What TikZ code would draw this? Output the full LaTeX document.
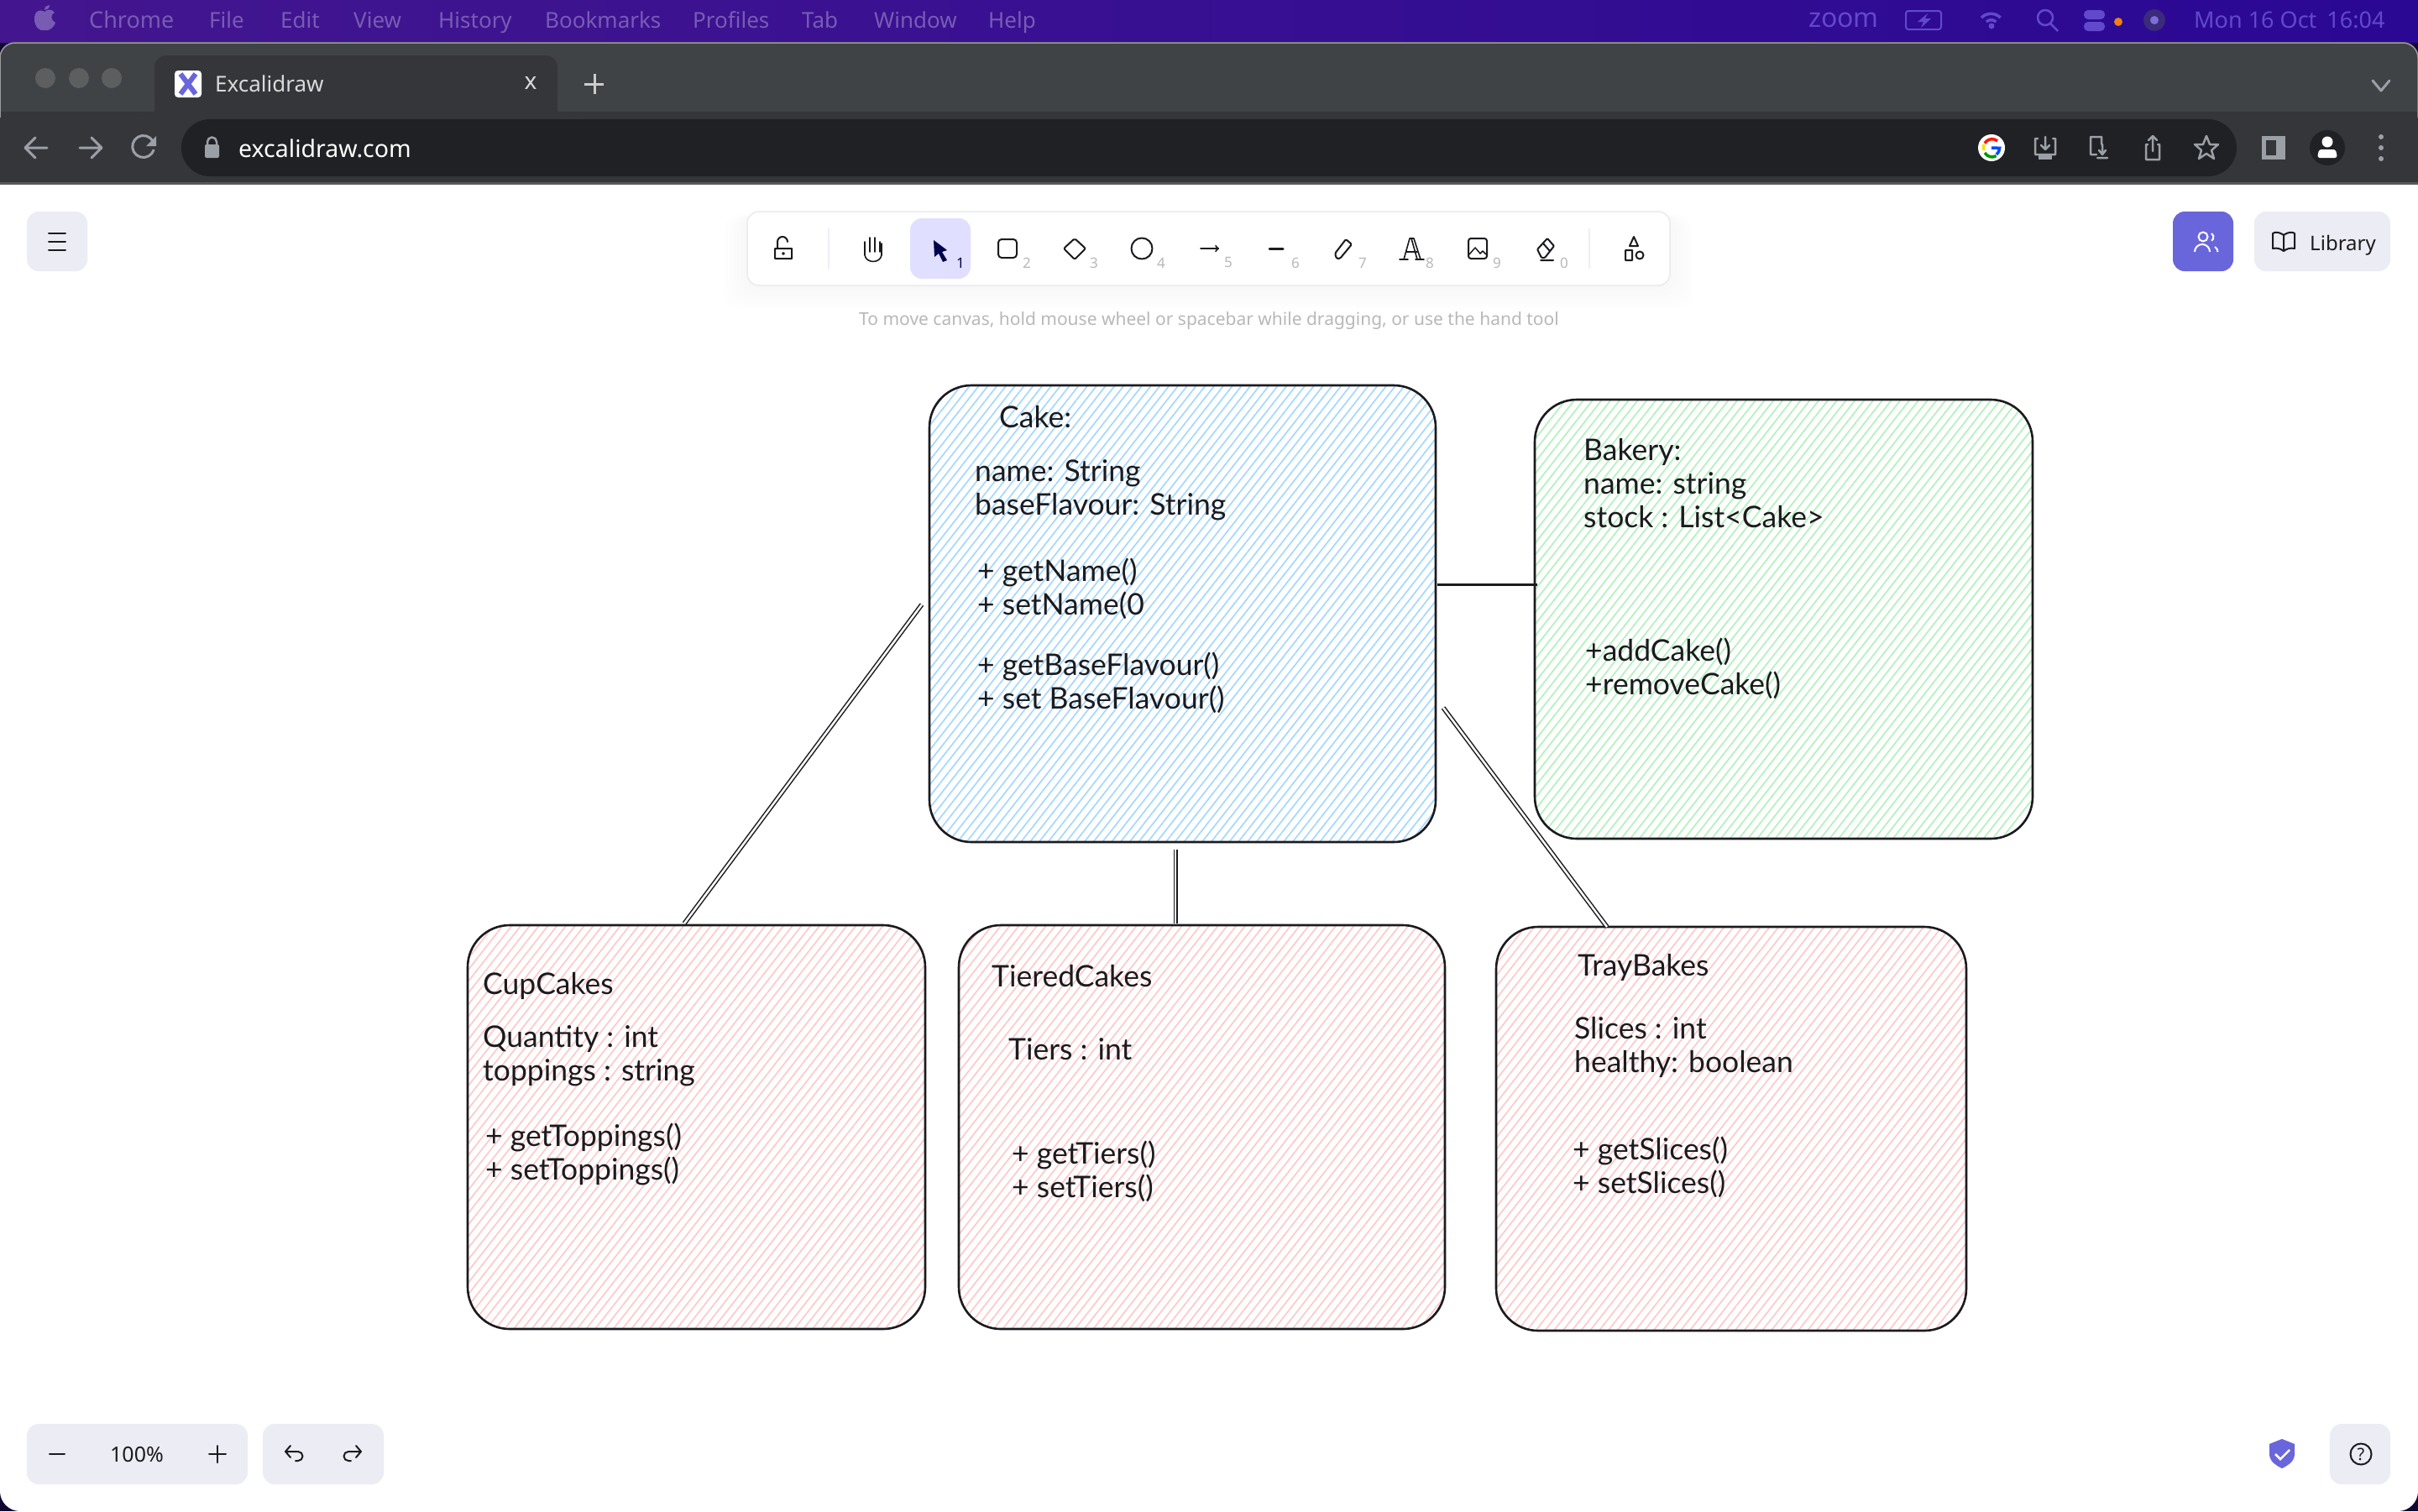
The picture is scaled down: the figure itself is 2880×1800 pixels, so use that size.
\documentclass[tikz,border=0pt]{standalone}
\usepackage{fontspec}
\setmainfont{Noto Sans}
\newfontfamily\handfont{Lato}
\usetikzlibrary{calc}
\usetikzlibrary{patterns.meta}
\definecolor{menuleft}{RGB}{67, 22, 143}
\definecolor{menuright}{RGB}{42, 8, 148}
\definecolor{menutext}{RGB}{120, 92, 180}
\definecolor{menutextr}{RGB}{98, 72, 205}
\definecolor{deskdark}{RGB}{18, 8, 50}
\definecolor{tabstrip}{RGB}{64, 67, 70}
\definecolor{chromebar}{RGB}{53, 54, 58}
\definecolor{urlbar}{RGB}{32, 33, 36}
\definecolor{chromeicon}{RGB}{154, 160, 166}
\definecolor{trafficgray}{RGB}{92, 94, 96}
\definecolor{panelgray}{RGB}{236, 236, 244}
\definecolor{excaviolet}{RGB}{105, 101, 219}
\definecolor{selectviolet}{RGB}{224, 223, 255}
\definecolor{hintgray}{RGB}{184, 184, 184}
\definecolor{inkblack}{RGB}{27, 27, 31}
\definecolor{hatchblue}{RGB}{165, 216, 255}
\definecolor{hatchgreen}{RGB}{178, 242, 187}
\definecolor{hatchpink}{RGB}{255, 201, 201}
\tikzset{
  hatchbox/.style={draw=inkblack, line width=2.6pt, rounded corners=50pt, inner sep=0pt,
    pattern={Lines[angle=52, distance=8.5pt, line width=1.7pt]}},
  sketchtext/.style={anchor=west, align=left, inner sep=0pt, font=\handfont\fontsize{35.5}{40}\selectfont, text=inkblack},
  sketchline/.style={draw=inkblack, line width=1.5pt, double=white, double distance=2.5pt},
  sketchsolid/.style={draw=inkblack, line width=3pt},
  menuitem/.style={anchor=base west, inner sep=0pt, font=\fontsize{26}{30}\selectfont},
  uibutton/.style={fill=panelgray, rounded corners=14pt},
  toolicon/.style={draw=inkblack, line width=2pt, line join=round, line cap=round},
  chromeline/.style={draw=chromeicon, line width=3pt, line cap=round, line join=round},
  toolkey/.style={inner sep=0pt, font=\fontsize{17}{20}\selectfont, text=hintgray},
}
\begin{document}
\begin{tikzpicture}[x=1pt, y=-1pt]
\useasboundingbox (0,0) rectangle (2880,1800);
\fill[deskdark] (0,0) rectangle (2880,1800);
\fill[white, rounded corners=24pt] (0,180) rectangle (2880,1800);
% menu bar
\shade[left color=menuleft, right color=menuright] (0,0) rectangle (2880,50);
\fill[menutext] (53,14) .. controls (46,10) and (41,14) .. (41,23) .. controls (41,31) and (47,38) .. (53,36)
  .. controls (59,38) and (65,31) .. (66,27) .. controls (60,24) and (60,17) .. (65,15) .. controls (61,10) and (57,11) .. (53,14) -- cycle;
\fill[menutext] (53,12) .. controls (53,8) and (56,6) .. (59,6) .. controls (59,10) and (56,12) .. (53,12) -- cycle;
\node[menuitem, text=menutext, font=\fontsize{27}{30}\selectfont\bfseries] (menuchrome) at (106,33) {Chrome};
\foreach \mx/\mt in {249/File, 334/Edit, 421/View, 522/History, 649/Bookmarks, 825/Profiles, 955/Tab, 1041/Window, 1177/Help}
  \node[menuitem, text=menutext] at (\mx,33) {\mt};
\node[anchor=center, inner sep=0pt, text=menutextr, font=\fontsize{32}{34}\selectfont\bfseries] (menuzoom) at (2196,24) {zoom};
\draw[menutextr, line width=2pt, rounded corners=3pt] (2270,13) rectangle (2312,35);
\fill[menutextr] (2296,16) -- (2284,26) -- (2291,26) -- (2288,33) -- (2300,22) -- (2293,22) -- cycle;
\draw[menutextr, line width=3.5pt] (2360,21) arc[start angle=135, end angle=45, radius=16pt];
\draw[menutextr, line width=3.5pt] (2366,26) arc[start angle=135, end angle=45, radius=8pt];
\fill[menutextr] (2372,31) circle (3.5pt);
\draw[menutextr, line width=2.5pt] (2436,21) circle (9pt) (2442,28) -- (2451,37);
\fill[menutextr, rounded corners=5pt] (2482,12) rectangle (2507,23) (2482,26) rectangle (2507,37);
\fill[orange!70!brown] (2523,26) circle (5pt);
\fill[menutextr!60!black] (2566,24) circle (13pt);
\fill[menutextr!80!white] (2566,24) circle (5pt);
\node[menuitem, text=menutextr, font=\fontsize{27}{30}\selectfont] (menuclock) at (2613,33) {Mon 16 Oct\hspace{12pt}16:04};
% browser window
\fill[tabstrip, rounded corners=18pt] (0,50) rectangle (2880,150);
\fill[chromebar] (0,133) rectangle (2880,217);
\fill[gray!70!black] (0,217) rectangle (2880,220);
\draw[gray!80, line width=1.5pt, rounded corners=18pt] (0,140) -- (0,51) -- (2880,51) -- (2880,140);
\foreach \dx in {54,94,133}
  \fill[trafficgray] (\dx,93) circle (12pt);
\fill[chromebar, rounded corners=14pt] (184,66) rectangle (664,150);
\fill[chromebar] (170,120) rectangle (678,133);
\fill[tabstrip, rounded corners=10pt] (150,100) rectangle (184,140);
\fill[tabstrip, rounded corners=10pt] (664,100) rectangle (700,140);
\fill[chromebar] (150,133) rectangle (700,140);
\fill[white, rounded corners=4pt] (208,84) rectangle (240,116);
\draw[excaviolet, line width=6pt] (215,88) -- (233,112) (233,88) -- (215,112);
\node[menuitem, text=white!85!black] (tabtitle) at (256,109) {Excalidraw};
\node[inner sep=0pt, text=white!85!black, font=\fontsize{28}{30}\selectfont] (tabclose) at (632,99) {x};
\draw[white!80!black, line width=3pt] (696,100) -- (719,100) (708,88) -- (708,112);
\draw[chromeline] (2826,96) -- (2836,108) -- (2846,96);
\draw[chromeline] (30,176) -- (56,176) (42,164) -- (30,176) -- (42,188);
\draw[chromeline] (95,176) -- (121,176) (109,164) -- (121,176) -- (109,188);
\draw[chromeline] (182,168) arc[start angle=30, end angle=340, radius=13pt];
\fill[chromeicon] (186,162) -- (186,174) -- (174,174) -- cycle;
\fill[urlbar, rounded corners=34pt] (216,142) rectangle (2664,210);
\fill[chromeicon, rounded corners=2pt] (244,172) rectangle (261,188);
\draw[chromeicon, line width=2.5pt] (247,172) -- (247,169) arc[start angle=180, end angle=0, radius=5.5pt] -- (258,172);
\node[menuitem, text=white, font=\fontsize{28.5}{32}\selectfont] (urltext) at (284,187) {excalidraw.com};
% browser icons
\fill[white] (2372,176) circle (16pt);
\draw[red!80!orange, line width=3.5pt] (2379,168) arc[start angle=50, end angle=150, radius=10pt];
\draw[yellow!80!orange, line width=3.5pt] (2363,172) arc[start angle=160, end angle=200, radius=10pt];
\draw[green!60!black, line width=3.5pt] (2364,182) arc[start angle=210, end angle=300, radius=10pt];
\draw[blue!70!cyan, line width=3.5pt] (2378,184) arc[start angle=310, end angle=360, radius=10pt] -- (2372,176);
\draw[chromeline, line width=2.5pt] (2427,165) -- (2424,165) -- (2424,184) -- (2448,184) -- (2448,165) -- (2445,165) (2436,163) -- (2436,178) (2431,173) -- (2436,178) -- (2441,173);
\fill[chromeicon] (2428,184) rectangle (2444,190);
\draw[chromeline, line width=2.5pt] (2503,163) -- (2490,163) -- (2490,184) -- (2497,184) (2503,163) -- (2503,172) (2504,172) -- (2504,184) (2500,179) -- (2504,184) -- (2508,179) (2498,188) -- (2510,188);
\draw[chromeline, line width=2.5pt] (2558,172) -- (2556,172) -- (2556,190) -- (2572,190) -- (2572,172) -- (2570,172) (2564,162) -- (2564,180) (2559,167) -- (2564,162) -- (2569,167);
\draw[chromeline, line width=2.5pt] (2628,162) -- (2632,172) -- (2642,172) -- (2634,179) -- (2637,189) -- (2628,183) -- (2619,189) -- (2622,179) -- (2614,172) -- (2624,172) -- cycle;
\fill[chromeicon] (2694,162) rectangle (2722,190);
\fill[chromebar] (2699,167) rectangle (2711,185);
\fill[urlbar] (2772,176) circle (21pt);
\fill[white] (2772,169) circle (6.5pt);
\fill[white, rounded corners=3pt] (2760,188) -- (2762,178) -- (2782,178) -- (2784,188) -- cycle;
\foreach \dy in {163,176,189}
  \fill[chromeicon] (2836,\dy) circle (3pt);
% excalidraw controls
\fill[uibutton] (32,252) rectangle (104,323);
\draw[toolicon] (58,278) -- (78,278) (58,288) -- (78,288) (58,298) -- (78,298);
\foreach \sp in {4,8,...,28}
  \fill[black, opacity=0.004, rounded corners=20pt] ({890-\sp},256) rectangle ({1989+\sp},{340+\sp});
\fill[white, rounded corners=14pt] (890,252) rectangle (1989,340);
\draw[black!8, line width=1.5pt, rounded corners=14pt] (890,252) rectangle (1989,340);
\draw[excaviolet!12, line width=1.5pt] (987,272) -- (987,320) (1893,272) -- (1893,320);
\fill[selectviolet, rounded corners=14pt] (1084,260) rectangle (1156,332);
% tool icons
\draw[toolicon] (923,296) rectangle (943,308) (926,296) -- (926,288) arc[start angle=180, end angle=0, radius=6pt] (933,302) circle (1pt);
\draw[toolicon, line width=1.6pt] (1030,300) -- (1030,288) (1036,300) -- (1036,283) (1042,300) -- (1042,283) (1048,300) -- (1048,288)
  (1030,298) -- (1030,304) .. controls (1032,314) and (1048,314) .. (1050,304) -- (1050,290);
\fill[black!70!blue] (1112,286) -- (1128,298) -- (1122,300) -- (1128,310) -- (1123,312) -- (1118,302) -- (1113,306) -- cycle;
\node[inner sep=0pt, text=black!70!blue, font=\fontsize{17}{20}\selectfont] (toolone) at (1144,313) {1};
\draw[toolicon, rounded corners=4pt] (1189,285) rectangle (1211,307);
\draw[toolicon, rounded corners=2pt] (1280,284) -- (1293,296) -- (1280,309) -- (1267,296) -- cycle;
\draw[toolicon] (1360,296) circle (12.5pt);
\draw[toolicon, line width=2pt, -to] (1430,296) -- (1452,296);
\draw[toolicon, line width=3pt] (1512,296) -- (1528,296);
\draw[toolicon, rounded corners=1.5pt] (1592,308) -- (1590,302) -- (1603,285) -- (1610,291) -- (1596,308) -- cycle;
\draw[toolicon, line width=1.6pt] (1667,309) -- (1677,309) (1686,309) -- (1696,309) (1672,309) -- (1679,284) -- (1684,284) -- (1692,309) (1675,300) -- (1688,300) (1681,284) -- (1688,309);
\draw[toolicon, rounded corners=3pt] (1749,284) rectangle (1771,308);
\draw[toolicon, line width=1.5pt] (1750,303) -- (1757,295) -- (1763,302) -- (1766,299) -- (1770,303);
\draw[toolicon, rounded corners=1pt] (1831,297) -- (1843,284) -- (1851,293) -- (1840,307) -- (1836,307) -- cycle (1838,290) -- (1846,299) (1835,310) -- (1850,310);
\draw[toolicon, line width=2pt] (1946,282) -- (1951,293) -- (1941,293) -- cycle (1936,298) rectangle (1944,310);
\draw[toolicon, line width=2pt] (1953,304) circle (4.5pt);
\foreach \kx/\kt in {1223/2, 1303/3, 1383/4, 1463/5, 1543/6, 1623/7, 1703/8, 1783/9, 1863/0}
  \node[toolkey] at (\kx,313) {\kt};
\node[inner sep=0pt, text=hintgray, font=\fontsize{21}{24}\selectfont] (hinttext) at (1440,382) {To move canvas, hold mouse wheel or spacebar while dragging, or use the hand tool};
\fill[excaviolet, rounded corners=14pt] (2588,252) rectangle (2660,323);
\draw[white, line width=2pt] (2624,282) circle (5.5pt) (2614,300) arc[start angle=180, end angle=0, radius=9pt];
\draw[white, line width=2pt] (2634,278) arc[start angle=60, end angle=-60, radius=5pt] (2638,294) arc[start angle=60, end angle=0, radius=7pt];
\fill[uibutton] (2685,252) rectangle (2847,323);
\draw[toolicon, line width=2pt] (2720,280) .. controls (2714,276) and (2710,276) .. (2707,278) -- (2707,296) .. controls (2712,295) and (2716,296) .. (2720,299)
  .. controls (2724,296) and (2728,295) .. (2733,296) -- (2733,278) .. controls (2730,276) and (2726,276) .. (2720,280) -- (2720,299);
\node[menuitem, text=inkblack, font=\fontsize{24}{26}\selectfont] (librarytext) at (2751,298) {Library};
\fill[uibutton] (32,1696) rectangle (295,1768);
\fill[uibutton] (313,1696) rectangle (457,1768);
\draw[toolicon, line width=2pt] (59,1732) -- (77,1732) (249,1732) -- (269,1732) (259,1722) -- (259,1742);
\node[inner sep=0pt, text=inkblack, font=\fontsize{25}{28}\selectfont] (zoomvalue) at (163,1733) {100\%};
\draw[toolicon, line width=2pt] (341,1729) -- (355,1729) arc[start angle=90, end angle=-90, radius=5.5pt] -- (352,1740) (346,1722) -- (340,1729) -- (346,1736);
\draw[toolicon, line width=2pt] (429,1729) -- (415,1729) arc[start angle=90, end angle=270, radius=5.5pt] -- (418,1740) (424,1722) -- (430,1729) -- (424,1736);
\fill[excaviolet] (2718,1714) -- (2733,1720) -- (2733,1733) .. controls (2732,1742) and (2724,1746) .. (2718,1749) .. controls (2712,1746) and (2704,1742) .. (2703,1733) -- (2703,1720) -- cycle;
\draw[white, line width=2.5pt] (2710,1732) -- (2716,1738) -- (2727,1727);
\fill[uibutton] (2775,1696) rectangle (2847,1768);
\draw[toolicon, line width=2pt] (2812,1732) circle (12.5pt);
\node[inner sep=0pt, text=inkblack, font=\fontsize{20}{20}\selectfont] (helpmark) at (2812,1732) {?};
% boxes
\node[hatchbox, pattern color=hatchblue, minimum width=603pt, minimum height=544pt] (cake) at (1408.5,731) {};
\node[hatchbox, pattern color=hatchgreen, minimum width=593pt, minimum height=523pt] (bakery) at (2124.5,737.5) {};
\node[hatchbox, pattern color=hatchpink, minimum width=545pt, minimum height=481pt] (cupcakes) at (829.5,1342.5) {};
\node[hatchbox, pattern color=hatchpink, minimum width=579pt, minimum height=481pt] (tiered) at (1431.5,1342.5) {};
\node[hatchbox, pattern color=hatchpink, minimum width=560pt, minimum height=481pt] (traybakes) at (2062,1344.5) {};
% connector ends
\coordinate (cakeleft) at (1098,720);
\coordinate (cakeright) at (1712,696);
\coordinate (cakelow) at (1719,843);
\coordinate (cakebase) at (1400,1012);
\coordinate (cupstop) at (815,1100);
\coordinate (tieredtop) at (1400,1100);
\coordinate (traystop) at (1914,1104);
\coordinate (bakeryleft) at (1831,696);
\draw[sketchline] (cakeleft) -- (cupstop);
\draw[sketchline, double distance=2pt] (cakebase) -- (tieredtop);
\draw[sketchsolid] (cakeright) -- (bakeryleft);
\draw[sketchline] (cakelow) -- (traystop);
% texts
\node[sketchtext] (caketitle) at (1190,497) {Cake:};
\node[sketchtext] (cakefields) at (1161,584) {name: String\\baseFlavour: String};
\node[sketchtext] (cakenamemethods) at (1164,701) {+ getName()\\+ setName(0};
\node[sketchtext] (cakeflavourmethods) at (1164,813) {+ getBaseFlavour()\\+ set BaseFlavour()};
\node[sketchtext] (bakeryfields) at (1886,576) {Bakery:\\name: string\\stock : List<Cake>};
\node[sketchtext] (bakerymethods) at (1888,796) {+addCake()\\+removeCake()};
\node[sketchtext] (cuptitle) at (575,1174) {CupCakes};
\node[sketchtext] (cupfields) at (575,1258) {Quantity : int\\toppings : string};
\node[sketchtext] (cupmethods) at (578,1375) {+ getToppings()\\+ setToppings()};
\node[sketchtext] (tieredtitle) at (1181,1163) {TieredCakes};
\node[sketchtext] (tieredfields) at (1201,1250) {Tiers : int};
\node[sketchtext] (tieredmethods) at (1205,1395) {+ getTiers()\\+ setTiers()};
\node[sketchtext] (traytitle) at (1879,1152) {TrayBakes};
\node[sketchtext] (trayfields) at (1875,1247) {Slices : int\\healthy: boolean};
\node[sketchtext] (traymethods) at (1873,1390) {+ getSlices()\\+ setSlices()};
\end{tikzpicture}
\end{document}
